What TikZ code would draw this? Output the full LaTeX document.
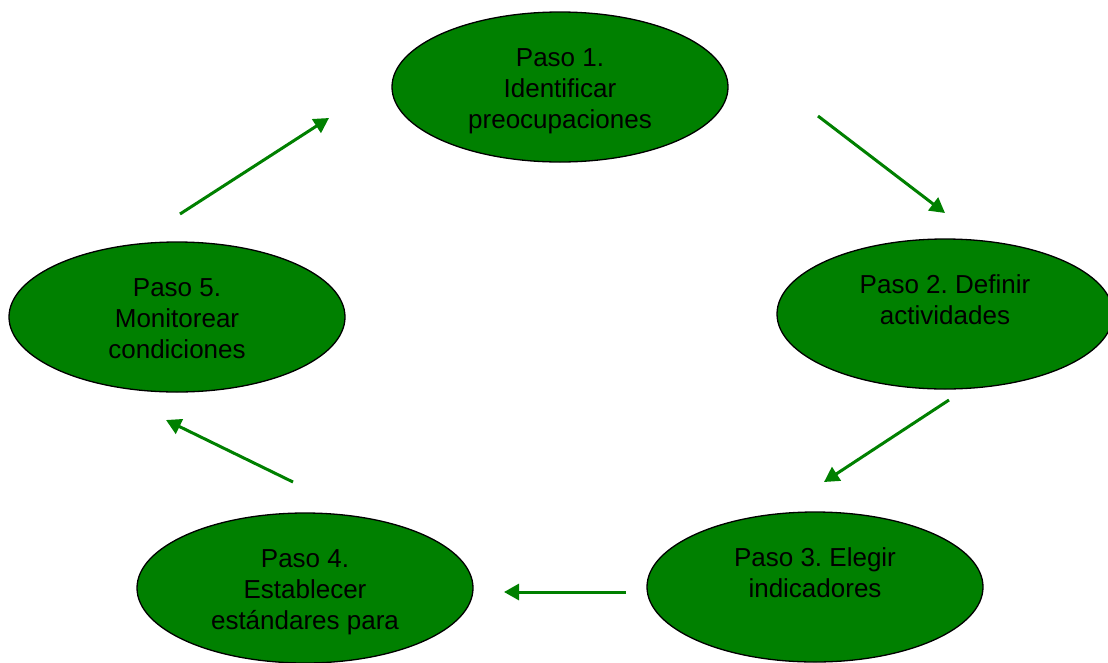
\documentclass[tikz,border=0pt]{standalone}
\usepackage{fontspec}
\setmainfont{Liberation Sans}
\usetikzlibrary{arrows.meta,shapes.geometric}
\definecolor{stepgreen}{RGB}{0,128,0}
\frenchspacing
\begin{document}
\begin{tikzpicture}[x=1pt,y=-1pt,
  stepellipse/.style={ellipse,draw=black,line width=1.3pt,fill=stepgreen,
    minimum width=336pt,minimum height=150pt,inner sep=0pt},
  steptext/.style={align=center,font=\fontsize{26pt}{31pt}\selectfont\frenchspacing,
    text=black,inner sep=0pt,yshift=-4.5pt},
  flow/.style={draw=stepgreen,line width=3pt,
    -{Triangle[length=15pt,width=16pt]}}]
\useasboundingbox (0,0) rectangle (1108,662);
% ellipses
\node[stepellipse] (e1) at (560,87) {};
\node[stepellipse] (e2) at (945,314) {};
\node[stepellipse] (e3) at (815,587) {};
\node[stepellipse] (e4) at (305,588) {};
\node[stepellipse] (e5) at (177,317) {};
% texts
\node[steptext] (t1) at (e1.center) {\strut Paso 1.\\\strut Identificar\\\strut preocupaciones};
\node[steptext] (t2) at (e2.center) {\strut Paso 2. Definir\\\strut actividades\\\strut};
\node[steptext] (t3) at (e3.center) {\strut Paso 3. Elegir\\\strut indicadores\\\strut};
\node[steptext] (t4) at (e4.center) {\strut Paso 4.\\\strut Establecer\\\strut estándares para};
\node[steptext] (t5) at (e5.center) {\strut Paso 5.\\\strut Monitorear\\\strut condiciones};
% arrow end points
\coordinate (a1s) at (180,214);
\coordinate (a1e) at (329,118);
\coordinate (a2s) at (818,116);
\coordinate (a2e) at (945,213);
\coordinate (a3s) at (949,400);
\coordinate (a3e) at (824,482);
\coordinate (a4s) at (626,592);
\coordinate (a4e) at (504,592);
\coordinate (a5s) at (293,482);
\coordinate (a5e) at (166,420);
\draw[flow] (a1s) -- (a1e);
\draw[flow] (a2s) -- (a2e);
\draw[flow] (a3s) -- (a3e);
\draw[flow] (a4s) -- (a4e);
\draw[flow] (a5s) -- (a5e);
\end{tikzpicture}
\end{document}
